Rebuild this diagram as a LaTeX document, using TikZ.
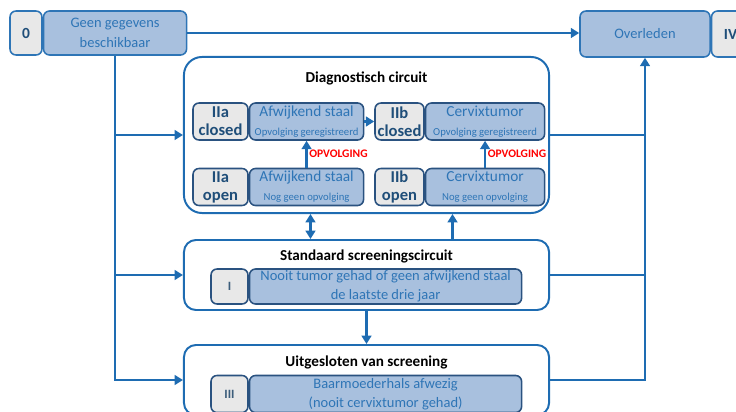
\documentclass[tikz,border=0pt]{standalone}
\usepackage{fontspec}
\setmainfont{Carlito}
\usetikzlibrary{positioning,arrows.meta}

\definecolor{lijnblauw}{RGB}{30,108,178}
\definecolor{vakblauw}{RGB}{168,192,222}
\definecolor{tekstblauw}{RGB}{46,117,182}
\definecolor{randdonker}{RGB}{42,82,128}
\definecolor{labeltekst}{RGB}{31,78,121}
\definecolor{grijsvak}{RGB}{232,232,232}

\tikzset{
  vak/.style={draw=tekstblauw,fill=vakblauw,line width=1.1pt,rounded corners=0.15cm,
    text=tekstblauw,align=center,inner sep=0pt,font=\fontsize{10.3}{14.5}\selectfont},
  grijs/.style={draw=tekstblauw,fill=grijsvak,line width=1.1pt,rounded corners=0.15cm,
    text=labeltekst,align=center,inner sep=0pt,font=\bfseries\fontsize{11}{13}\selectfont},
  binnen/.style={vak,draw=randdonker,font=\fontsize{10.9}{13.5}\selectfont},
  binnengrijs/.style={grijs,draw=randdonker,font=\bfseries\fontsize{11.8}{12.8}\selectfont},
  kader/.style={draw=lijnblauw,fill=white,line width=1.4pt},
  titel/.style={font=\bfseries\fontsize{10.8}{13}\selectfont,text=black},
  opv/.style={font=\bfseries\fontsize{8.2}{10}\selectfont,text=red},
  pijl/.style={->,>={Triangle[length=6pt,width=7pt]},line width=1.9pt,draw=lijnblauw},
  lijn/.style={line width=1.9pt,draw=lijnblauw}
}
\newcommand{\klein}{\fontsize{7.6}{9}\selectfont}

\begin{document}
\begin{tikzpicture}[x=0.025cm,y=-0.025cm]
  \useasboundingbox (0,0) rectangle (736,412);
  \clip (0,0) rectangle (736,412);

  % bovenste rij
  \node[grijs,minimum width=0.8cm,minimum height=1.1cm] (nul) at (26,33) {0};
  \node[vak,minimum width=3.575cm,minimum height=1.1cm,right=0pt of nul] (geen) {Geen gegevens\\beschikbaar};
  \node[vak,minimum width=3.25cm,minimum height=1.15cm] (overleden) at (645,34) {Overleden};
  \node[grijs,minimum width=0.95cm,minimum height=1.15cm,right=0pt of overleden] (vier) {IV};

  % diagnostisch circuit
  \node[kader,minimum width=9.125cm,minimum height=3.9cm,rounded corners=0.45cm] (diag) at (366.5,135) {};
  \node[titel] (diagtitel) at (366.5,78) {Diagnostisch circuit};
  \node[binnengrijs,minimum width=1.375cm,minimum height=0.925cm] (iiac) at (220.5,121.5) {IIa\\closed};
  \node[binnen,minimum width=2.85cm,minimum height=0.925cm,right=0pt of iiac] (afwc) {Afwijkend staal\\{\klein Opvolging geregistreerd}};
  \node[binnengrijs,minimum width=1.225cm,minimum height=0.925cm] (iibc) at (399.5,121.5) {IIb\\closed};
  \node[binnen,minimum width=2.975cm,minimum height=0.925cm,right=0pt of iibc] (cervc) {Cervixtumor\\{\klein Opvolging geregistreerd}};
  \node[binnengrijs,minimum width=1.375cm,minimum height=0.925cm] (iiao) at (220.5,187) {IIa\\open};
  \node[binnen,minimum width=2.85cm,minimum height=0.925cm,right=0pt of iiao] (afwo) {Afwijkend staal\\{\klein Nog geen opvolging}};
  \node[binnengrijs,minimum width=1.225cm,minimum height=0.925cm] (iibo) at (399.5,187) {IIb\\open};
  \node[binnen,minimum width=2.975cm,minimum height=0.925cm,right=0pt of iibo] (cervo) {Cervixtumor\\{\klein Nog geen opvolging}};

  % standaard screeningscircuit
  \node[kader,minimum width=9.125cm,minimum height=1.75cm,rounded corners=0.3cm] (std) at (366.5,275) {};
  \node[titel] (stdtitel) at (366.5,256) {Standaard screeningscircuit};
  \node[binnengrijs,minimum width=0.925cm,minimum height=0.875cm,font=\bfseries\fontsize{9}{11}\selectfont,text=labeltekst!70!gray] (een) at (229.5,286.5) {I};
  \node[binnen,minimum width=6.8cm,minimum height=0.875cm,right=0pt of een,font=\fontsize{10.3}{13.5}\selectfont] (nooit) {Nooit tumor gehad of geen afwijkend staal\\de laatste drie jaar};

  % uitgesloten van screening
  \node[kader,minimum width=9.125cm,minimum height=1.75cm,rounded corners=0.3cm] (uit) at (366.5,380) {};
  \node[titel] (uittitel) at (366.5,362) {Uitgesloten van screening};
  \node[binnengrijs,minimum width=0.925cm,minimum height=0.925cm,font=\bfseries\fontsize{9}{11}\selectfont,text=labeltekst!70!gray] (drie) at (229.5,394) {III};
  \node[binnen,minimum width=6.8cm,minimum height=0.925cm,right=0pt of drie,font=\fontsize{10.3}{13.5}\selectfont] (baar) {Baarmoederhals afwezig\\(nooit cervixtumor gehad)};

  % verbindingen links
  \draw[pijl] (geen.east) -- (geen.east -| overleden.west);
  \draw[pijl] (geen.south) |- (uit.west);
  \draw[pijl] (geen.south |- diag.west) -- (diag.west);
  \draw[pijl] (geen.south |- std.west) -- (std.west);

  % verbindingen rechts
  \draw[pijl] (uit.east) -| (overleden.south);
  \draw[lijn] (diag.east) -- (diag.east -| overleden.south);
  \draw[lijn] (std.east) -- (std.east -| overleden.south);

  % binnen het diagnostisch circuit
  \draw[pijl] (afwc.east) -- (iibc.west);
  \draw[pijl] (afwo.north) -- node[right,opv,inner sep=1pt] (opva) {OPVOLGING} (afwc.south);
  \draw[pijl] (cervo.north) -- node[right,opv,inner sep=1pt] (opvb) {OPVOLGING} (cervc.south);

  % tussen de circuits
  \draw[pijl,<->] ([xshift=-1.4cm]diag.south) -- ([xshift=-1.4cm]std.north);
  \draw[pijl] ([xshift=2.15cm]std.north) -- ([xshift=2.15cm]diag.south);
  \draw[pijl] (std.south) -- (uit.north);
\end{tikzpicture}
\end{document}
